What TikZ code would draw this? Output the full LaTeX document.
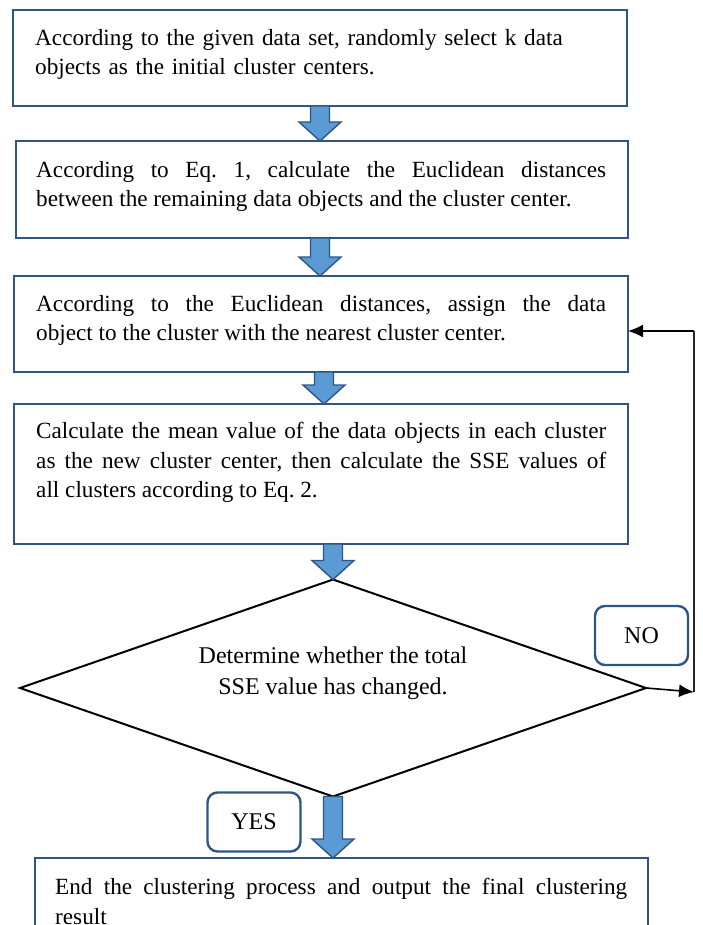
\documentclass[tikz,border=0pt]{standalone}
\usepackage{fontspec}
\setmainfont{Liberation Serif}
\usetikzlibrary{shapes.geometric,arrows.meta,calc}
\hyphenpenalty=10000
\exhyphenpenalty=10000
\frenchspacing
\definecolor{boxblue}{RGB}{47,85,135}
\definecolor{arrowfill}{RGB}{91,155,213}
\definecolor{arrowline}{RGB}{46,84,130}
\newcommand{\blockarrow}[3]{%
  \draw[barrow] let \p1=(#2), \p2=(#3) in
    (#1pt-9.5pt,\y1) -- (#1pt+9.5pt,\y1) -- (#1pt+9.5pt,\y2+19pt) --
    (#1pt+21pt,\y2+19pt) -- (#1pt,\y2) -- (#1pt-21pt,\y2+19pt) --
    (#1pt-9.5pt,\y2+19pt) -- cycle;}
\newcommand{\boxfont}{\fontsize{23.2}{29.5}\selectfont\frenchspacing}
\newcommand{\dfont}{\fontsize{24}{31}\selectfont}
\tikzset{
  procbox/.style={draw=boxblue, line width=2.4pt, rectangle, anchor=north west, inner sep=0pt, outer sep=0pt},
  boxtext/.style={anchor=north west, inner sep=0pt, text=black, align=justify, font=\boxfont},
  barrow/.style={draw=arrowline, fill=arrowfill, line width=1.4pt, line join=miter},
  decbox/.style={draw=black, line width=2pt, diamond, inner sep=0pt, outer sep=0pt,
    minimum width=626pt, minimum height=217pt},
  dtext/.style={inner sep=0pt, align=center, text=black, font=\dfont},
  tagbox/.style={draw=boxblue, line width=2.4pt, rounded corners=10pt, minimum width=93pt,
    minimum height=59pt, inner sep=0pt, text=black, font=\dfont},
  fbline/.style={draw=black, line width=1.6pt},
  fbthin/.style={draw=black!85, line width=1.1pt},
  tip/.style={-{Latex[length=15pt,width=13pt]}}
}
\begin{document}
\begin{tikzpicture}[x=1pt,y=-1pt]
\useasboundingbox (0,0) rectangle (703,925);
\clip (0,0) rectangle (703,925);
% boxes
\node[procbox, minimum width=614pt, minimum height=96pt] (b1) at (13,10) {};
\node[procbox, minimum width=612pt, minimum height=97pt] (b2) at (16,141) {};
\node[procbox, minimum width=614pt, minimum height=96pt] (b3) at (14,276) {};
\node[procbox, minimum width=614pt, minimum height=140pt] (b4) at (14,404) {};
\node[procbox, minimum width=613pt, minimum height=120pt] (b5) at (35,858) {};
% texts
\node[boxtext, text width=570pt, align=left] (t1) at ([xshift=22pt,yshift=-19pt]b1.north west)
  {According to the given data set, randomly select k data\\objects as the initial cluster centers.};
\node[boxtext, text width=570pt] (t2) at ([xshift=20pt,yshift=-20pt]b2.north west)
  {According to Eq. 1, calculate the Euclidean distances\linebreak between the remaining data objects and the cluster center.};
\node[boxtext, text width=570pt] (t3) at ([xshift=22pt,yshift=-19pt]b3.north west)
  {According to the Euclidean distances, assign the data\linebreak object to the cluster with the nearest cluster center.};
\node[boxtext, text width=570pt] (t4) at ([xshift=22pt,yshift=-18pt]b4.north west)
  {Calculate the mean value of the data objects in each cluster\linebreak as the new cluster center, then calculate the SSE values of\linebreak all clusters according to Eq. 2.};
\node[boxtext, text width=572pt] (t5) at ([xshift=20pt,yshift=-20pt]b5.north west)
  {End the clustering process and output the final clustering\linebreak result};
% decision
\node[decbox] (d) at (333,688) {};
\node[dtext] (dt) at ([yshift=15pt]d.center) {Determine whether the total\\SSE value has changed.};
% tags
\node[tagbox] (no) at (641.5,635.5) {NO};
\node[tagbox] (yes) at (254,822) {YES};
% block arrows
\blockarrow{320}{b1.south}{b2.north}
\blockarrow{320}{b2.south}{b3.north}
\blockarrow{324}{b3.south}{b4.north}
\blockarrow{333}{b4.south}{d.north}
\blockarrow{333}{d.south}{b5.north}
% feedback loop
\coordinate (c1) at (694,692);
\coordinate (c2) at (694,331);
\draw[fbline, tip] (d.east) -- (c1);
\draw[fbthin] (c1) -- (c2);
\draw[fbline, tip] (c2) -- (c2 -| b3.east);
\end{tikzpicture}
\end{document}
